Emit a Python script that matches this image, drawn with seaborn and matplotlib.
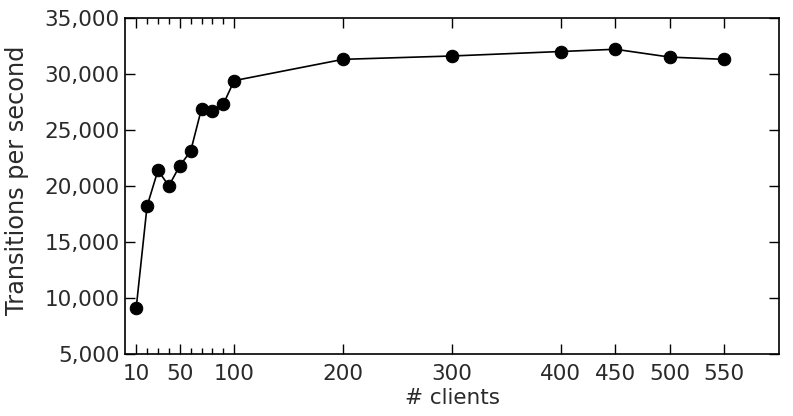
import pandas as pd
import matplotlib.pyplot as plt
import seaborn as sns
from matplotlib.ticker import FuncFormatter

sns.set_style('ticks')
plt.rcParams['font.family'] = ['DejaVu Sans']

clients = [10, 20, 30, 40, 50, 60, 70, 80, 90, 100, 200, 300, 400, 450, 500, 550]
transitions = [9100, 18200, 21400, 20000, 21800, 23100, 26900, 26700, 27300, 29400,
               31300, 31600, 32000, 32200, 31500, 31300]
major_ticks = [10, 50, 100, 200, 300, 400, 450, 500, 550]
minor_ticks = [20, 30, 40, 60, 70, 80, 90]
y_ticks = [5000, 10000, 15000, 20000, 25000, 30000, 35000]

df = pd.DataFrame({'clients': clients, 'transitions': transitions})

fig, ax = plt.subplots(figsize=(7.93, 4.16), dpi=100)
fig.subplots_adjust(left=0.158, right=0.982, top=0.957, bottom=0.149)

sns.lineplot(data=df, x='clients', y='transitions', ax=ax, color='black',
             marker='o', markersize=9, linewidth=1.2, markeredgecolor='black')

ax.set_xlim(0, 600)
ax.set_ylim(5000, 35000)
ax.set_xticks(major_ticks)
ax.set_xticks(minor_ticks, minor=True)
ax.set_yticks(y_ticks)
ax.yaxis.set_major_formatter(FuncFormatter(lambda v, p: f'{int(v):,}'))
ax.tick_params(which='both', direction='in', top=True, right=True, labelsize=15.5,
               color='black', labelcolor='#2a2a2a', width=1)
ax.tick_params(axis='x', which='major', length=7, pad=7)
ax.tick_params(axis='y', which='major', length=7, pad=4)
ax.tick_params(which='minor', length=4)
for s in ax.spines.values():
    s.set_color('black')
    s.set_linewidth(1.2)

ax.set_xlabel('# clients', fontsize=15.5, labelpad=3, color='#2a2a2a')
ax.set_ylabel('Transitions per second', fontsize=17.3, color='#2a2a2a')
ax.yaxis.set_label_coords(-0.147, 0.518)

plt.savefig('out.png', dpi=100)
